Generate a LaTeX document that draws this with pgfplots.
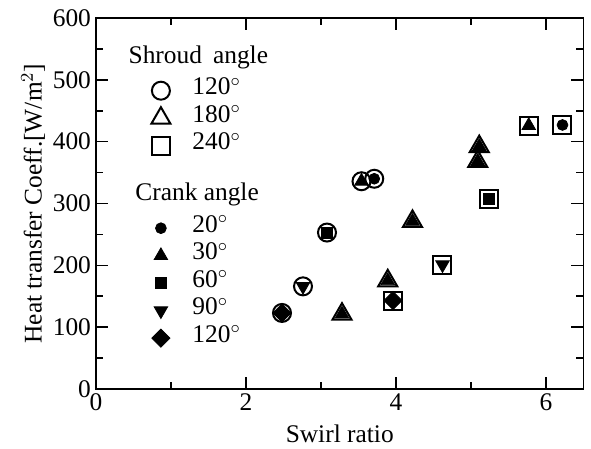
\documentclass[border=0pt]{standalone}
\usepackage{fontspec}
\setmainfont{Liberation Serif}
\usepackage{pgfplots}
\pgfplotsset{compat=1.18}
\begin{document}
\begin{tikzpicture}[font=\fontsize{12.7}{15}\selectfont]
\path[use as bounding box] (-48pt,-30pt) rectangle (247.5pt,194.5pt);
\begin{axis}[
  at={(0pt,0pt)}, anchor=south west,
  scale only axis, width=243.75pt, height=185.5pt,
  xmin=0, xmax=6.5, ymin=0, ymax=600,
  xtick={0,2,4,6}, minor xtick={1,3,5},
  ytick={0,100,...,600}, minor ytick={50,150,...,550},
  tick align=inside, major tick length=6pt, minor tick length=3.5pt,
  axis line style={line width=0.8pt},
  every tick/.style={line width=0.8pt, black},
  /pgf/number format/assume math mode=true,
  xticklabel style={yshift=1pt},
  yticklabel style={xshift=1pt},
  xlabel={Swirl ratio}, ylabel={Heat transfer Coeff.[W/m$^{2}$]},
  xlabel style={yshift=0pt},
  ylabel style={yshift=-3pt},
  legend cell align=left,
  legend style={draw=none, fill=none, at={(0.085,0.853)}, anchor=north west,
    row sep=0pt, column sep=11pt,
    nodes={inner sep=0pt, text height=9pt, text depth=4.75pt}},
  clip=false,
]
% shroud angle (open markers)
\addplot[only marks, mark=o, mark size=4.5pt, line width=1pt, black] coordinates {
 (2.48,123) (2.76,166) (3.08,253) (3.54,336) (3.71,340)};
\addlegendentry{120$^{\circ}$}
\addplot[only marks, mark=triangle, mark size=5.5pt, line width=1pt, black] coordinates {
 (3.28,121) (3.89,175) (4.22,271) (5.09,368) (5.11,392)};
\addlegendentry{180$^{\circ}$}
\addplot[only marks, mark=square, mark size=4.5pt, line width=1pt, black] coordinates {
 (3.96,143) (4.62,201) (5.24,308) (5.77,426) (6.22,427)};
\addlegendentry{240$^{\circ}$}
\addlegendimage{empty legend}
\addlegendentry{}
\addlegendimage{empty legend}
\addlegendentry{}
% crank angle (filled markers)
\addplot[only marks, mark=*, mark size=2.7pt, black] coordinates {
 (3.71,340) (6.22,427)};
\addlegendentry{20$^{\circ}$}
\addplot[only marks, mark=triangle*, mark size=3.9pt, black] coordinates {
 (3.54,336) (3.28,121) (3.89,175) (4.22,271) (5.09,368) (5.11,392) (5.77,426)};
\addlegendentry{30$^{\circ}$}
\addplot[only marks, mark=square*, mark size=2.7pt, black] coordinates {
 (3.08,253) (5.24,308)};
\addlegendentry{60$^{\circ}$}
\addplot[only marks, mark=triangle*, mark options={rotate=180}, mark size=3.9pt, black] coordinates {
 (2.76,166) (4.62,201)};
\addlegendentry{90$^{\circ}$}
\addplot[only marks, mark=square*, mark options={rotate=45}, mark size=3.2pt, black] coordinates {
 (2.48,123) (3.96,143)};
\addlegendentry{120$^{\circ}$}
\node[anchor=west, inner sep=0pt] at (axis cs:0.43,537) {Shroud\hspace{5.5pt}angle};
\node[anchor=west, inner sep=0pt] at (axis cs:0.52,315) {Crank angle};
\end{axis}
\end{tikzpicture}
\end{document}
